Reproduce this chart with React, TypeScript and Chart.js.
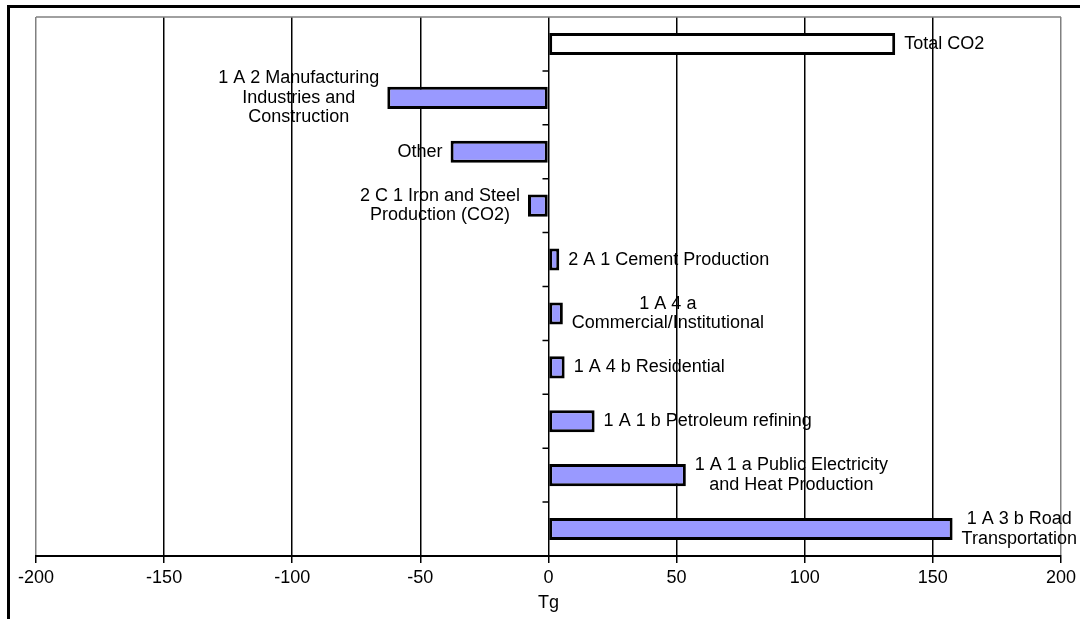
import React, { useEffect, useRef } from "react";
import { Chart, registerables } from "chart.js";

Chart.register(...registerables);

const categories: string[][] = [
  ["Total CO2"],
  ["1 A 2 Manufacturing", "Industries and", "Construction"],
  ["Other"],
  ["2 C 1 Iron and Steel", "Production (CO2)"],
  ["2 A 1 Cement Production"],
  ["1 A 4 a", "Commercial/Institutional"],
  ["1 A 4 b Residential"],
  ["1 A 1 b Petroleum refining"],
  ["1 A 1 a Public Electricity", "and Heat Production"],
  ["1 A 3 b Road", "Transportation"],
];

const values: number[] = [135.3, -62.9, -38.2, -8.0, 4.2, 5.6, 6.3, 18.0, 53.6, 157.7];

const xTicks: number[] = [-200, -150, -100, -50, 0, 50, 100, 150, 200];

const FONT = "'Liberation Sans', Arial, sans-serif";

const decorPlugin = {
  id: "decor",
  beforeDraw(chart: any) {
    const ctx = chart.ctx;
    ctx.save();
    ctx.fillStyle = "#ffffff";
    ctx.fillRect(0, 0, chart.width, chart.height);
    ctx.fillStyle = "#000000";
    ctx.fillRect(7, 5, 3, chart.height);
    ctx.fillRect(7, 5, chart.width, 3);
    ctx.restore();
  },
  afterDraw(chart: any) {
    const ctx = chart.ctx;
    const { chartArea } = chart;
    const xs = chart.scales.x;
    const ys = chart.scales.y;
    ctx.save();
    ctx.strokeStyle = "#808080";
    ctx.lineWidth = 1.5;
    ctx.beginPath();
    ctx.moveTo(chartArea.left, chartArea.top);
    ctx.lineTo(chartArea.right, chartArea.top);
    ctx.stroke();
    const x0 = xs.getPixelForValue(0);
    ctx.strokeStyle = "#000000";
    ctx.lineWidth = 1.5;
    ctx.beginPath();
    for (let i = 1; i < categories.length; i++) {
      const y = (ys.getPixelForValue(i - 1) + ys.getPixelForValue(i)) / 2;
      ctx.moveTo(x0 - 6, y);
      ctx.lineTo(x0, y);
    }
    ctx.stroke();
    ctx.font = `18px ${FONT}`;
    ctx.fillStyle = "#000000";
    ctx.textAlign = "center";
    ctx.textBaseline = "middle";
    const meta = chart.getDatasetMeta(0);
    const lh = 19.5;
    meta.data.forEach((bar: any, i: number) => {
      const lines = categories[i];
      const v = values[i];
      const maxW = Math.max(...lines.map((l) => ctx.measureText(l).width));
      const cx = v >= 0 ? bar.x + 9 + maxW / 2 : bar.x - 8 - maxW / 2;
      const y0 = bar.y - ((lines.length - 1) * lh) / 2;
      lines.forEach((l, j) => ctx.fillText(l, cx, y0 + j * lh));
    });
    ctx.restore();
  },
};

export default function App() {
  const ref = useRef<HTMLCanvasElement | null>(null);
  useEffect(() => {
    if (!ref.current) return;
    const chart = new Chart(ref.current, {
      type: "bar",
      data: {
        labels: categories.map((c) => c.join(" ")),
        datasets: [
          {
            data: values,
            backgroundColor: values.map((_, i) => (i === 0 ? "#ffffff" : "#9999ff")),
            borderColor: "#000000",
            borderWidth: 3,
            borderSkipped: false,
            barPercentage: 0.41,
            categoryPercentage: 1,
          },
        ],
      },
      options: {
        indexAxis: "y",
        animation: false,
        responsive: true,
        maintainAspectRatio: false,
        layout: { padding: { left: 36, right: 17, top: 17, bottom: 0 } },
        plugins: { legend: { display: false }, tooltip: { enabled: false } },
        scales: {
          x: {
            type: "linear",
            min: -200,
            max: 200,
            afterBuildTicks: (axis: any) => {
              axis.ticks = xTicks.map((v) => ({ value: v }));
            },
            afterFit: (axis: any) => {
              axis.height = 63;
            },
            grid: {
              color: (c: any) =>
                c.tick && Math.abs(c.tick.value) === 200 ? "#808080" : "#000000",
              lineWidth: 1.5,
              drawTicks: true,
              tickLength: 7,
              tickColor: "#000000",
              tickWidth: 1.5,
            },
            border: { display: true, color: "#000000", width: 2 },
            ticks: {
              color: "#000000",
              padding: 4,
              font: { family: FONT, size: 18 },
              maxRotation: 0,
              autoSkip: false,
            },
            title: {
              display: true,
              text: "Tg",
              color: "#000000",
              font: { family: FONT, size: 18 },
              padding: { top: 0, bottom: 5 },
            },
          },
          y: {
            type: "category",
            display: false,
          },
        },
      },
      plugins: [decorPlugin],
    } as any);
    return () => chart.destroy();
  }, []);
  return (
    <div style={{ position: "fixed", left: 0, top: 0, width: 1080, height: 619, background: "#fff" }}>
      <canvas ref={ref} />
    </div>
  );
}
